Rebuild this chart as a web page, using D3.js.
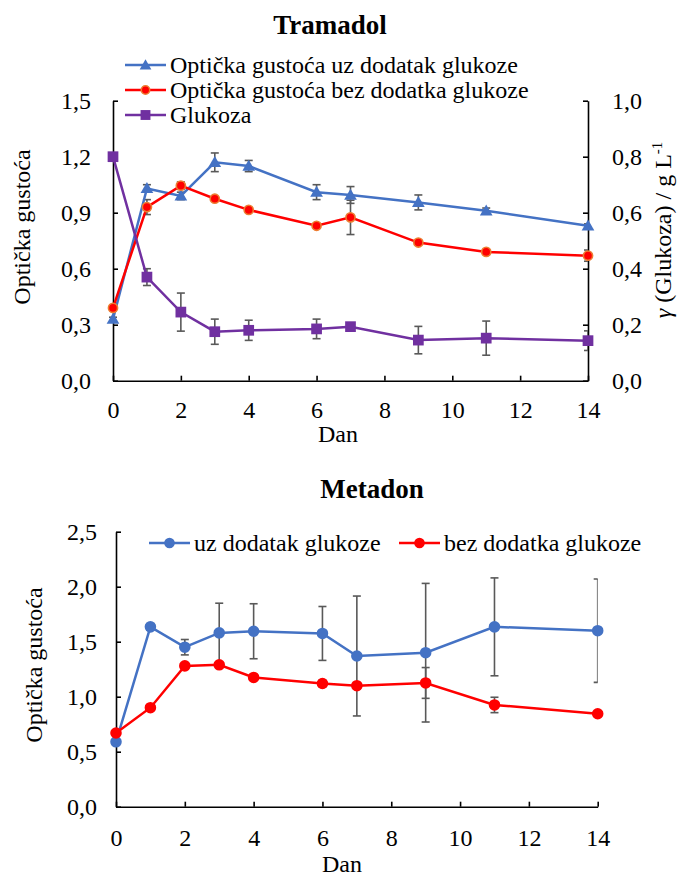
<!DOCTYPE html>
<html><head><meta charset="utf-8">
<script src="https://cdn.jsdelivr.net/npm/d3@7"></script>
<style>body{margin:0;background:#fff;}</style>
</head>
<body>
<svg id="c" width="678" height="878"></svg>
<script>
// ---------- DATA ----------
const days = [0,1,2,3,4,6,7,9,11,14];
const xTicks = [0,2,4,6,8,10,12,14];

// Tramadol
const tramWith = [0.33,1.03,0.99,1.17,1.15,1.01,0.995,0.955,0.91,0.83];
const tramWithErr = [0.01,0.02,0.02,0.05,0.03,0.04,0.045,0.04,0.015,0.01];
const tramWithout = [0.39,0.93,1.045,0.975,0.915,0.83,0.875,0.74,0.69,0.67];
const tramWithoutErr = [0.01,0.04,0.02,0.01,0.01,0.01,0.092,0.01,0.01,0.03];
const tramGlucose = [0.80,0.37,0.245,0.175,0.18,0.185,0.193,0.145,0.152,0.143];
const tramGlucoseErr = [0.01,0.03,0.068,0.045,0.036,0.035,0.01,0.049,0.061,0.035];
const tramLeftTicks = [0,0.3,0.6,0.9,1.2,1.5];
const tramRightTicks = [0,0.2,0.4,0.6,0.8,1.0];

// Metadon
const metWith = [0.59,1.635,1.45,1.58,1.595,1.575,1.37,1.40,1.635,1.60];
const metWithErr = [0.01,0.03,0.07,0.27,0.25,0.245,0.545,0.63,0.445,0.47];
const metWithout = [0.67,0.90,1.28,1.29,1.175,1.12,1.10,1.125,0.925,0.845];
const metWithoutErr = [0.01,0.01,0.01,0.01,0.01,0.03,0.01,0.14,0.07,0.01];
const metLeftTicks = [0,0.5,1.0,1.5,2.0,2.5];

// ---------- STYLE ----------
const FONT = "Liberation Serif";
const FS = 24;
const BLUE="#4472C4", RED="#FF0000", PURPLE="#7030A0", ORANGE="#ED7D31", ERR="#595959";
const fmt = d => d3.format(".1f")(d).replace(".", ",");
const svg = d3.select("#c");
const defs = svg.append("defs");

function styleAxis(g){
  g.attr("font-family", FONT).attr("font-size",FS);
  g.select(".domain").attr("stroke","#000").attr("stroke-width",1.6);
  g.selectAll(".tick line").attr("stroke","#000").attr("stroke-width",1.6);
  g.selectAll(".tick text").attr("font-size",FS).attr("font-family",FONT).attr("fill","#000");
}

function txt(g){ return g.append("text").attr("font-family",FONT).attr("fill","#000").attr("font-size",FS); }

function errorBars(g, x, y, vals, errs, clipId){
  const eg = g.append("g").attr("clip-path", `url(#${clipId})`);
  days.forEach((d,i)=>{
    const cx = x(d), y1=y(vals[i]+errs[i]), y2=y(vals[i]-errs[i]);
    eg.append("line").attr("x1",cx).attr("x2",cx).attr("y1",y1).attr("y2",y2).attr("stroke",ERR).attr("stroke-width",1.6);
    [y1,y2].forEach(yy=>eg.append("line").attr("x1",cx-4).attr("x2",cx+4).attr("y1",yy).attr("y2",yy).attr("stroke",ERR).attr("stroke-width",1.6));
  });
}

function line(g, x, y, vals, color){
  g.append("path").datum(vals)
    .attr("d", d3.line().x((v,i)=>x(days[i])).y(v=>y(v)))
    .attr("fill","none").attr("stroke",color).attr("stroke-width",2.5);
}

const SYM = {tri:[d3.symbolTriangle,70], sq:[d3.symbolSquare,115], circ:[d3.symbolCircle,105], circO:[d3.symbolCircle,66]};
function markers(g, x, y, vals, type, fill, stroke){
  const [sym,size] = SYM[type];
  g.selectAll(null).data(vals).enter().append("path")
    .attr("d", d3.symbol().type(sym).size(size))
    .attr("transform",(v,i)=>`translate(${x(days[i])},${y(v)+(type==="tri"?1:0)})`)
    .attr("fill",fill).attr("stroke",stroke||"none").attr("stroke-width",stroke?1.6:0);
}

function legendItem(g, x0, yc, color, type, fill, stroke, label){
  g.append("line").attr("x1",x0).attr("x2",x0+41).attr("y1",yc).attr("y2",yc).attr("stroke",color).attr("stroke-width",2.5);
  const [sym,size] = SYM[type];
  g.append("path").attr("d", d3.symbol().type(sym).size(size*0.85))
    .attr("transform",`translate(${x0+20.5},${yc+(type==="tri"?1:0)})`)
    .attr("fill",fill).attr("stroke",stroke||"none").attr("stroke-width",stroke?1.5:0);
  txt(g).attr("x",x0+45).attr("y",yc).attr("dy","0.33em").text(label);
}

// ---------- TRAMADOL ----------
{
  const L=113, R=588, T=100.7, B=380.7;
  const x = d3.scaleLinear().domain([0,14]).range([L,R]);
  const yL = d3.scaleLinear().domain([0,1.5]).range([B,T]);
  const yR = d3.scaleLinear().domain([0,1.0]).range([B,T]);
  const g = svg.append("g");
  defs.append("clipPath").attr("id","clipT").append("rect")
    .attr("x",L-20).attr("y",0).attr("width",R-L+20).attr("height",878);

  txt(g).attr("x",330).attr("y",34).attr("text-anchor","middle")
    .attr("font-size",27).attr("font-weight","bold").text("Tramadol");

  g.append("g").attr("transform",`translate(${L},0)`)
    .call(d3.axisLeft(yL).tickValues(tramLeftTicks).tickFormat(fmt).tickSize(-5).tickPadding(22).tickSizeOuter(0))
    .call(styleAxis);
  g.append("g").attr("transform",`translate(${R},0)`)
    .call(d3.axisRight(yR).tickValues(tramRightTicks).tickFormat(fmt).tickSize(-5).tickPadding(24).tickSizeOuter(0))
    .call(styleAxis);
  g.append("g").attr("transform",`translate(0,${B})`)
    .call(d3.axisBottom(x).tickValues(xTicks).tickFormat(d3.format("d")).tickSize(-5).tickPadding(20).tickSizeOuter(0))
    .call(styleAxis);

  errorBars(g,x,yL,tramWith,tramWithErr,"clipT");
  errorBars(g,x,yL,tramWithout,tramWithoutErr,"clipT");
  errorBars(g,x,yR,tramGlucose,tramGlucoseErr,"clipT");

  line(g,x,yL,tramWith,BLUE);
  line(g,x,yL,tramWithout,RED);
  line(g,x,yR,tramGlucose,PURPLE);
  markers(g,x,yL,tramWith,"tri",BLUE);
  markers(g,x,yL,tramWithout,"circO",RED,ORANGE);
  markers(g,x,yR,tramGlucose,"sq",PURPLE);

  legendItem(g,125,65,BLUE,"tri",BLUE,null,"Optička gustoća uz dodatak glukoze");
  legendItem(g,125,90,RED,"circO",RED,ORANGE,"Optička gustoća bez dodatka glukoze");
  legendItem(g,125,115,PURPLE,"sq",PURPLE,null,"Glukoza");

  txt(g).attr("transform","translate(30,227) rotate(-90)").attr("text-anchor","middle")
    .text("Optička gustoća");
  const rl = txt(g).attr("transform","translate(671,230) rotate(-90)").attr("text-anchor","middle");
  rl.append("tspan").attr("font-style","italic").text("γ");
  rl.append("tspan").text(" (Glukoza) / g L");
  rl.append("tspan").attr("font-size",15).attr("dy",-9).text("-1");
  txt(g).attr("x",338).attr("y",442).attr("text-anchor","middle").text("Dan");
}

// ---------- METADON ----------
{
  const L=116, R=597.7, T=531.7, B=806.7;
  const x = d3.scaleLinear().domain([0,14]).range([L,R]);
  const y = d3.scaleLinear().domain([0,2.5]).range([B,T]);
  const g = svg.append("g");
  defs.append("clipPath").attr("id","clipM").append("rect")
    .attr("x",L-20).attr("y",0).attr("width",R-L+20).attr("height",878);

  txt(g).attr("x",372).attr("y",498).attr("text-anchor","middle")
    .attr("font-size",27).attr("font-weight","bold").text("Metadon");

  g.append("g").attr("transform",`translate(${L},0)`)
    .call(d3.axisLeft(y).tickValues(metLeftTicks).tickFormat(fmt).tickSize(-5).tickPadding(19).tickSizeOuter(0))
    .call(styleAxis);
  g.append("g").attr("transform",`translate(0,${B})`)
    .call(d3.axisBottom(x).tickValues(xTicks).tickFormat(d3.format("d")).tickSize(-5).tickPadding(22).tickSizeOuter(0))
    .call(styleAxis);

  errorBars(g,x,y,metWith,metWithErr,"clipM");
  errorBars(g,x,y,metWithout,metWithoutErr,"clipM");

  line(g,x,y,metWith,BLUE);
  line(g,x,y,metWithout,RED);
  markers(g,x,y,metWith,"circ",BLUE);
  markers(g,x,y,metWithout,"circ",RED);

  legendItem(g,149,543,BLUE,"circ",BLUE,null,"uz dodatak glukoze");
  legendItem(g,399,543,RED,"circ",RED,null,"bez dodatka glukoze");

  txt(g).attr("transform","translate(42,665) rotate(-90)").attr("text-anchor","middle")
    .text("Optička gustoća");
  txt(g).attr("x",342).attr("y",872).attr("text-anchor","middle").text("Dan");
}
</script>
</body></html>
